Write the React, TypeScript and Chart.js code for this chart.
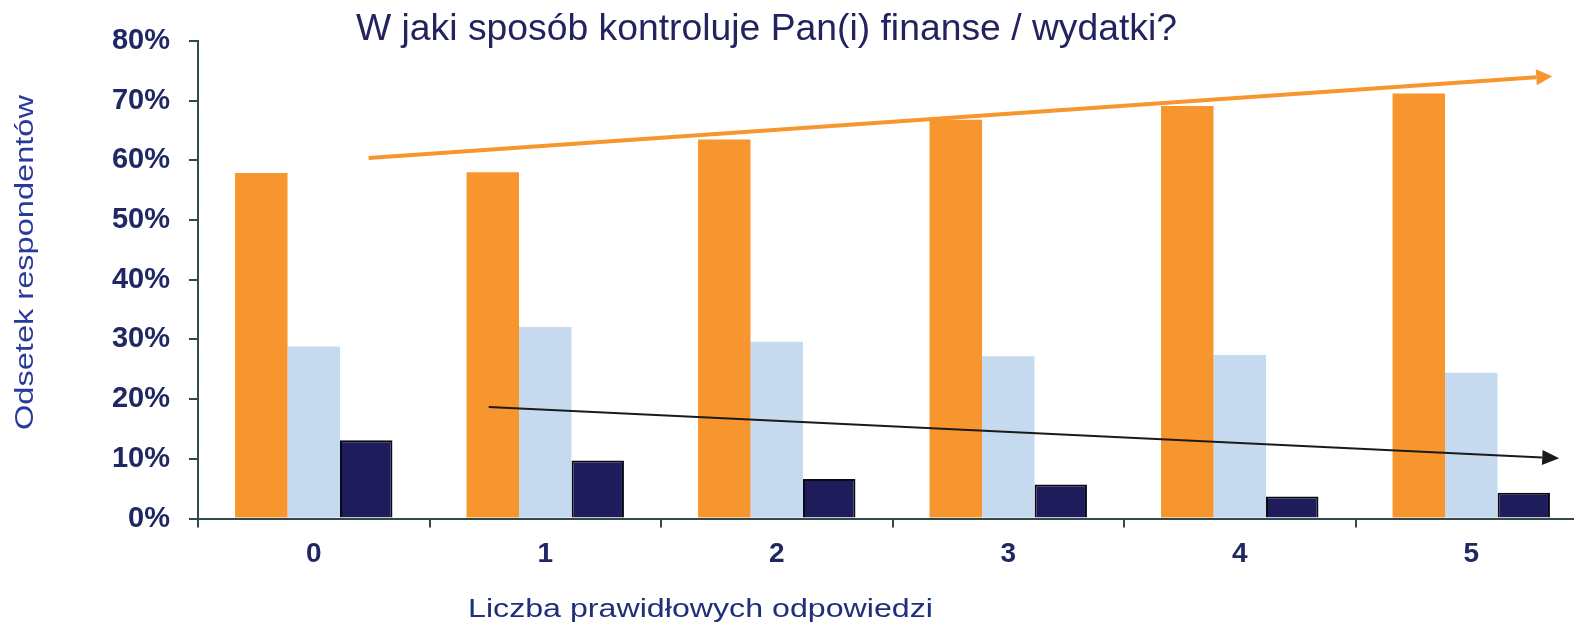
import React, { useEffect, useRef } from "react";
import { Chart, registerables } from "chart.js";

Chart.register(...registerables);

const categories = ["0", "1", "2", "3", "4", "5"];
const seriesOrange = [57.9, 58.0, 63.5, 66.8, 69.1, 71.2];
const seriesLightBlue = [28.8, 32.1, 29.6, 27.2, 27.4, 24.4];
const seriesNavy = [13.1, 9.7, 6.6, 5.7, 3.7, 4.3];
const yTicks = [0, 10, 20, 30, 40, 50, 60, 70, 80];

const chartTitle = "W jaki sposób kontroluje Pan(i) finanse / wydatki?";
const xTitle = "Liczba prawidłowych odpowiedzi";
const yTitle = "Odsetek respondentów";

// trend arrows in data space: [category index, percent]
const orangeArrow = { from: [0.237, 60.4], to: [5.35, 74.1] };
const blackArrow = { from: [0.756, 18.7], to: [5.38, 10.1] };

const FONT = "'Liberation Sans', Arial, Helvetica, sans-serif";
const AXIS = "#2f4a4a";

function drawFit(ctx: CanvasRenderingContext2D, text: string, x: number, y: number, width: number, size: number, color: string, rotate: boolean) {
  ctx.save();
  ctx.font = `${size}px ${FONT}`;
  ctx.fillStyle = color;
  ctx.textAlign = "left";
  ctx.textBaseline = "alphabetic";
  const w = ctx.measureText(text).width;
  ctx.translate(x, y);
  if (rotate) ctx.rotate(-Math.PI / 2);
  ctx.scale(width / w, 1);
  ctx.fillText(text, 0, 0);
  ctx.restore();
}

function drawArrow(ctx: CanvasRenderingContext2D, x1: number, y1: number, x2: number, y2: number, color: string, lw: number, headLen: number, headHalf: number) {
  const ang = Math.atan2(y2 - y1, x2 - x1);
  const bx = x2 - headLen * Math.cos(ang);
  const by = y2 - headLen * Math.sin(ang);
  ctx.save();
  ctx.strokeStyle = color;
  ctx.fillStyle = color;
  ctx.lineWidth = lw;
  ctx.beginPath();
  ctx.moveTo(x1, y1);
  ctx.lineTo(bx, by);
  ctx.stroke();
  ctx.beginPath();
  ctx.moveTo(x2, y2);
  ctx.lineTo(bx + headHalf * Math.sin(ang), by - headHalf * Math.cos(ang));
  ctx.lineTo(bx - headHalf * Math.sin(ang), by + headHalf * Math.cos(ang));
  ctx.closePath();
  ctx.fill();
  ctx.restore();
}

const annotations = {
  id: "annotations",
  afterDraw(chart: any) {
    const ctx = chart.ctx as CanvasRenderingContext2D;
    const xs = chart.scales.x;
    const ys = chart.scales.y;
    const p = (pt: number[]) => [xs.getPixelForValue(pt[0]), ys.getPixelForValue(pt[1])];
    const [oa, ob] = [p(orangeArrow.from), p(orangeArrow.to)];
    drawArrow(ctx, oa[0], oa[1], ob[0], ob[1], "#f7962f", 4, 16, 8);
    const [ba, bb] = [p(blackArrow.from), p(blackArrow.to)];
    drawArrow(ctx, ba[0], ba[1], bb[0], bb[1], "#1a1a1a", 2, 17, 7.5);

    drawFit(ctx, chartTitle, 356, 40, 821, 37, "#23235f", false);
    drawFit(ctx, xTitle, 468, 617, 465, 26.5, "#1f2f7a", false);
    drawFit(ctx, yTitle, 33, 430, 335, 25, "#2a3a9a", true);
  },
};

export default function App() {
  const ref = useRef<HTMLCanvasElement | null>(null);
  useEffect(() => {
    if (!ref.current) return;
    const chart = new Chart(ref.current, {
      type: "bar",
      data: {
        labels: categories,
        datasets: [
          { data: seriesOrange, backgroundColor: "#f7962f", borderWidth: 0 },
          { data: seriesLightBlue, backgroundColor: "#c5daee", borderWidth: 0 },
          { data: seriesNavy, backgroundColor: "#1f1c5c", borderColor: "#0a0a14", borderWidth: 2 },
        ],
      },
      options: {
        responsive: false,
        animation: false,
        devicePixelRatio: 1,
        layout: { padding: { left: 0, right: 13, top: 41, bottom: 0 } },
        datasets: { bar: { categoryPercentage: 0.68, barPercentage: 1.0 } },
        plugins: {
          legend: { display: false },
          title: { display: false },
          tooltip: { enabled: false },
        },
        scales: {
          x: {
            offset: true,
            afterFit: (s: any) => { s.height = 111.5; },
            border: { display: true, color: AXIS, width: 2 },
            grid: { offset: true, drawOnChartArea: false, drawTicks: true, tickLength: 9, color: AXIS, lineWidth: 2 },
            ticks: { color: "#1f2862", padding: 10, font: { family: FONT, size: 28, weight: "bold" } },
          },
          y: {
            min: 0,
            max: 80,
            afterFit: (s: any) => { s.width = 198; },
            afterBuildTicks: (s: any) => { s.ticks = yTicks.map((v) => ({ value: v })); },
            border: { display: true, color: AXIS, width: 2 },
            grid: { drawOnChartArea: false, drawTicks: true, tickLength: 9, color: AXIS, lineWidth: 2 },
            ticks: {
              color: "#1f2862",
              padding: 19,
              font: { family: FONT, size: 29, weight: "bold" },
              callback: (v: any) => `${v}%`,
            },
          },
        },
      },
      plugins: [annotations],
    });
    return () => chart.destroy();
  }, []);
  return (
    <div style={{ position: "absolute", left: 0, top: 0, width: 1574, height: 630, overflow: "hidden", background: "#fff" }}>
      <canvas ref={ref} width={1600} height={630} style={{ width: 1600, height: 630, display: "block" }} />
    </div>
  );
}
